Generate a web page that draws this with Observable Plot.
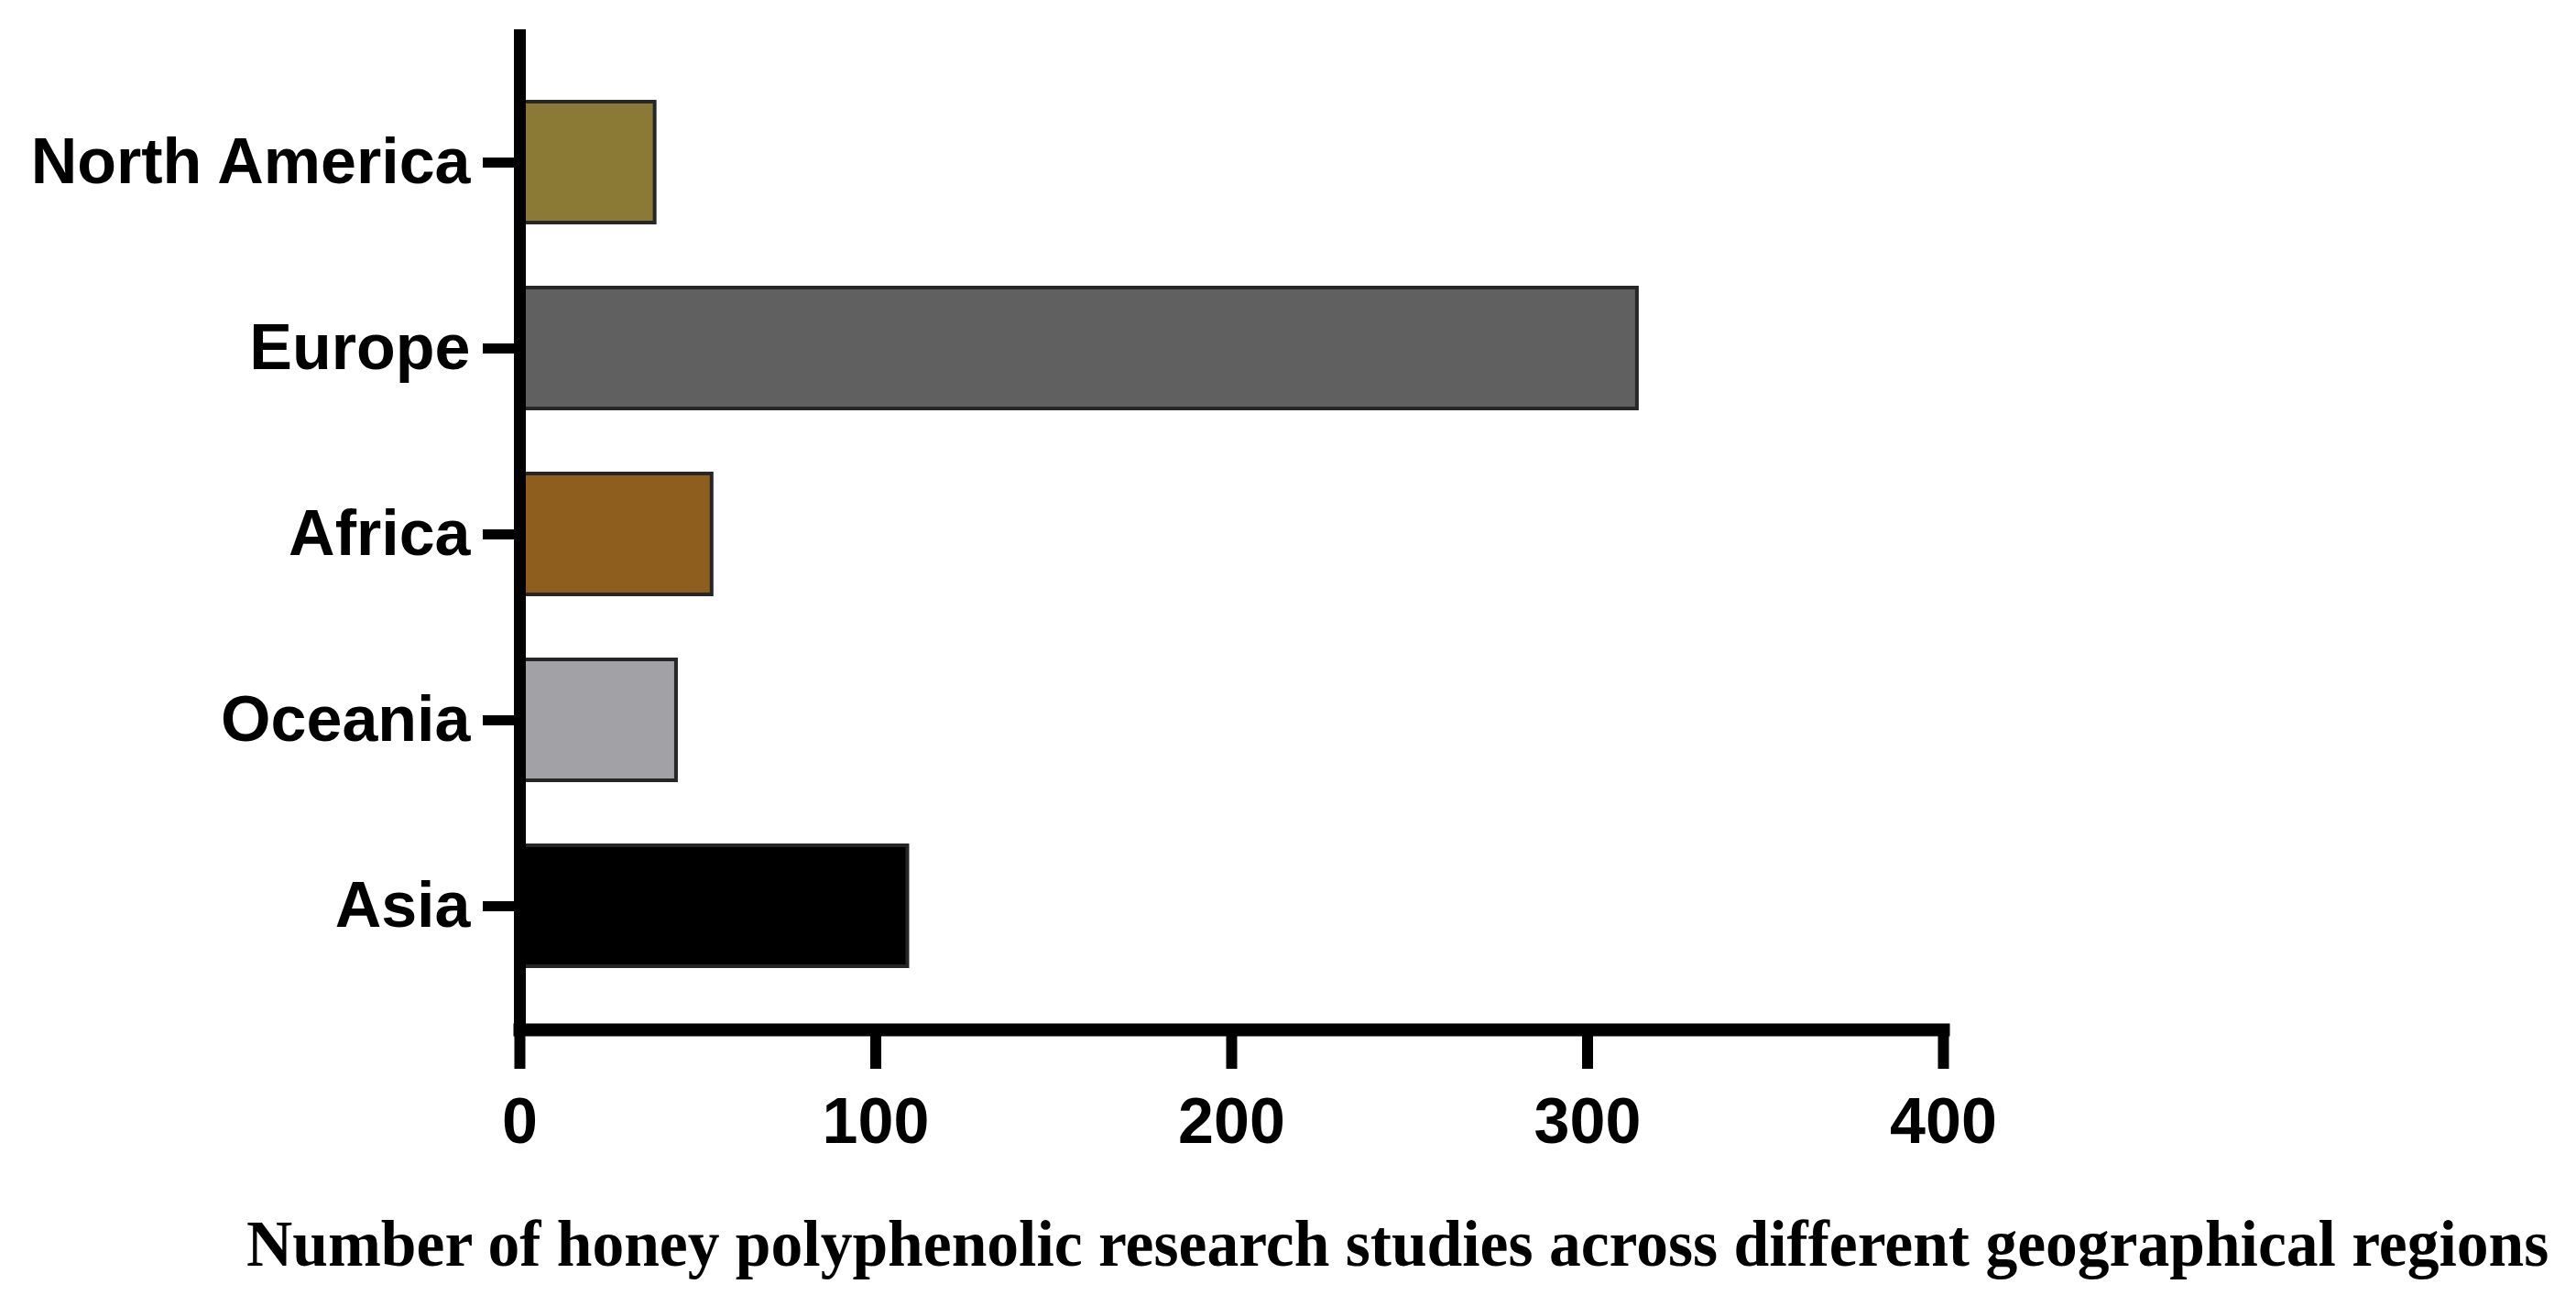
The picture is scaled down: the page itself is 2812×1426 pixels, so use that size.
<!DOCTYPE html>
<html>
<head>
<meta charset="utf-8">
<script src="https://cdn.jsdelivr.net/npm/d3@7"></script>
<script src="https://cdn.jsdelivr.net/npm/@observablehq/plot@0.6"></script>
<style>
  html, body { margin: 0; padding: 0; background: #fff; }
  #wrap { position: relative; width: 2812px; height: 1426px; overflow: hidden; }
  #title {
    position: absolute; left: 269px; top: 1322px; white-space: nowrap;
    font-family: "Liberation Serif", "DejaVu Serif", serif; font-weight: bold; color: #000;
    line-height: 1;
  }
</style>
</head>
<body>
<div id="wrap">
  <div id="chart"></div>
  <div id="title">Number of honey polyphenolic research studies across different geographical regions</div>
</div>
<script>
const regions = ["North America", "Europe", "Africa", "Oceania", "Asia"];
const studies = [38, 314, 54, 44, 109];
const xTicks = [0, 100, 200, 300, 400];
const barColors = ["#8a7a36", "#606060", "#8e5e1f", "#a2a2a6", "#000000"];

const data = regions.map((r, i) => ({region: r, value: studies[i]}));

const chart = Plot.plot({
  width: 2812,
  height: 1290,
  marginLeft: 567,
  marginRight: 691,
  marginTop: 32,
  marginBottom: 166,
  style: {fontFamily: "'Liberation Sans', Arial, sans-serif", fontSize: "70px", fontWeight: "bold", color: "#000", background: "#fff"},
  x: {domain: [0, 400], ticks: xTicks, label: null},
  y: {domain: regions, paddingInner: 0.35, paddingOuter: 0.31, insetTop: 13, insetBottom: 4, label: null},
  color: {domain: regions, range: barColors},
  marks: [
    Plot.barX(data, {y: "region", x: "value", fill: "region", stroke: "#262626", strokeWidth: 4}),
    Plot.ruleX([0], {stroke: "#000", strokeWidth: 13}),
    Plot.frame({anchor: "bottom", stroke: "#000", strokeWidth: 14}),
    Plot.axisX({ticks: xTicks, tickSize: 43, tickPadding: 31, strokeWidth: 12, label: null, tickFormat: d => String(d)}),
    Plot.axisY({tickSize: 40, tickPadding: 14, strokeWidth: 11, label: null})
  ]
});
document.getElementById("chart").appendChild(chart);

// fit title width to reference span, stretch vertically to reference cap height
const t = document.getElementById("title");
t.style.fontSize = "64px";
const w = t.getBoundingClientRect().width;
const fs = 64 * 2514 / w;
t.style.fontSize = fs + "px";
const baseOff = 0.8375 * fs;
t.style.top = (1382 - baseOff) + "px";
const sy = 47 / (0.662 * fs);
t.style.transformOrigin = "0px " + baseOff + "px";
t.style.transform = "scaleY(" + sy + ")";
</script>
</body>
</html>
